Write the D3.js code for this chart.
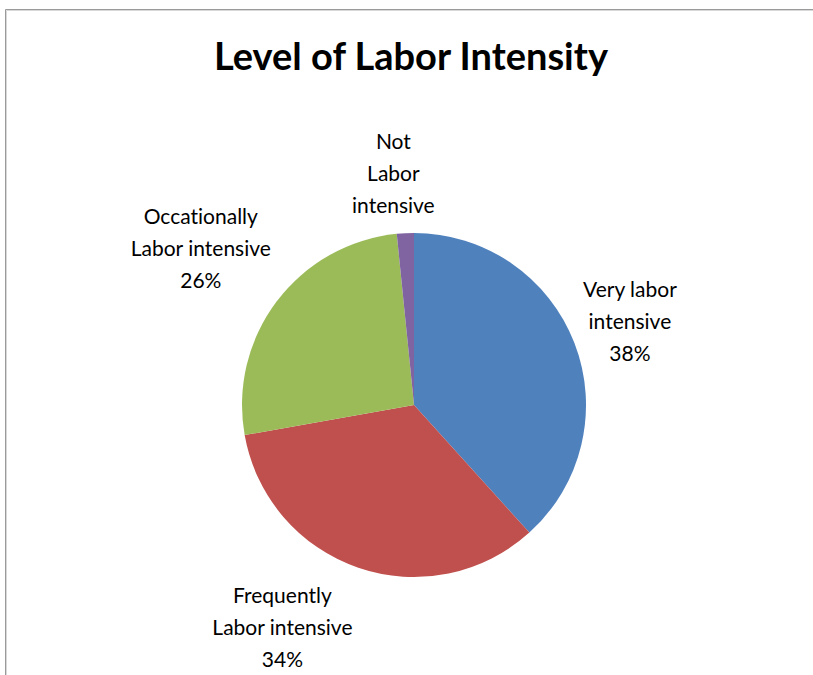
<!DOCTYPE html>
<html>
<head>
<meta charset="utf-8">
<script src="https://cdn.jsdelivr.net/npm/d3@7"></script>
<style>
  html, body { margin: 0; padding: 0; background: #fff; }
  svg { display: block; }
  text { font-variant-ligatures: none; font-feature-settings: "liga" 0, "clig" 0; }
</style>
</head>
<body>
<svg id="chart" width="813" height="675"></svg>
<script>
// Share of respondents by level of labor intensity (percent)
const categories = [
  "Very labor intensive",
  "Frequently Labor intensive",
  "Occationally Labor intensive",
  "Not Labor intensive"
];
const values = [38.3, 33.9, 26.2, 1.6];
const colors = ["#4F81BD", "#C0504D", "#9BBB59", "#8064A2"];
// Data label lines (wrapped the way they are shown)
const labelLines = [
  ["Very labor", "intensive", "38%"],
  ["Frequently", "Labor intensive", "34%"],
  ["Occationally", "Labor intensive", "26%"],
  ["Not", "Labor", "intensive"]
];

const width = 813, height = 675;
const cx = 414, cy = 405, radius = 172;
const fontFamily = "Lato, 'Open Sans', 'Liberation Sans', sans-serif";

const svg = d3.select("#chart");

// Chart area frame (top and left edges visible)
svg.append("path")
  .attr("d", "M5.5,675 V9.5 H813")
  .attr("fill", "none")
  .attr("stroke", "#9a9a9a")
  .attr("stroke-width", 1);
svg.append("path")
  .attr("d", "M6.5,675 V10.5 H813")
  .attr("fill", "none")
  .attr("stroke", "#d8d8d8")
  .attr("stroke-width", 1);

// Title
svg.append("text")
  .attr("x", 411)
  .attr("y", 70)
  .attr("text-anchor", "middle")
  .attr("font-family", fontFamily)
  .attr("font-weight", "bold")
  .attr("font-size", 38)
  .attr("fill", "#000")
  .text("Level of Labor Intensity");

const pie = d3.pie().sort(null).value(d => d);
const arcs = pie(values);
const arc = d3.arc().innerRadius(0).outerRadius(radius);

const g = svg.append("g").attr("transform", `translate(${cx},${cy})`);

g.selectAll("path.slice")
  .data(arcs)
  .join("path")
  .attr("class", "slice")
  .attr("d", arc)
  .attr("fill", (d, i) => colors[i]);

// Label placement: distance from centre (in radii) along the slice's mid-angle, plus a nudge
const labelLayout = [
  { r: 1.345, dx: 0,   dy: 0 },
  { r: 1.50,  dx: -48, dy: -22 },
  { r: 1.51,  dx: -6,  dy: 0 },
  { r: 1.345, dx: -9,  dy: 0 }
];
const lineHeight = 32;

const labels = g.selectAll("g.label")
  .data(arcs)
  .join("g")
  .attr("class", "label")
  .attr("transform", (d, i) => {
    const a = (d.startAngle + d.endAngle) / 2;
    const L = labelLayout[i];
    const x = Math.sin(a) * radius * L.r + L.dx;
    const y = -Math.cos(a) * radius * L.r + L.dy;
    return `translate(${x},${y})`;
  });

labels.each(function (d, i) {
  const lines = labelLines[i];
  const t = d3.select(this).append("text")
    .attr("text-anchor", "middle")
    .attr("font-family", fontFamily)
    .attr("font-size", 21)
    .attr("fill", "#000");
  lines.forEach((ln, k) => {
    t.append("tspan")
      .attr("x", 0)
      .attr("y", (k - (lines.length - 1) / 2) * lineHeight + 7.5)
      .text(ln);
  });
});
</script>
</body>
</html>
